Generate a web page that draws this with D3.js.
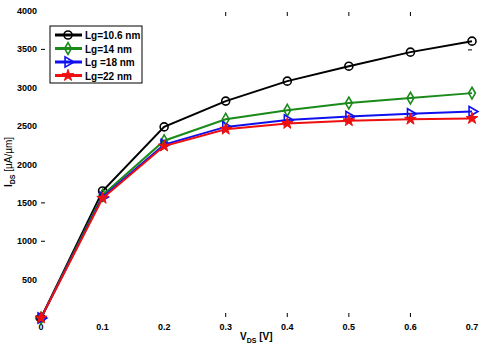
<!DOCTYPE html>
<html>
<head>
	<meta charset="utf-8">
	<style>
		body { margin: 0; background: #fff; }
		text { font-family: Arial, "Liberation Sans", sans-serif; font-weight: bold; }
	</style>
</head>
<body>
	<script src="https://cdn.jsdelivr.net/npm/d3@7"></script>

	<script>
		const vds = [0, 0.1, 0.2, 0.3, 0.4, 0.5, 0.6, 0.7];
		const lg106 = [0, 1655, 2490, 2826, 3086, 3281, 3464, 3607];
		const lg14 = [0, 1600, 2310, 2590, 2708, 2800, 2865, 2930];
		const lg18 = [0, 1575, 2260, 2490, 2580, 2625, 2660, 2690];
		const lg22 = [0, 1560, 2240, 2460, 2535, 2570, 2590, 2600];
		const legendNames = ['Lg=10.6 nm', 'Lg=14 nm', 'Lg =18 nm', 'Lg=22 nm'];
		const xTicks = [0, 0.1, 0.2, 0.3, 0.4, 0.5, 0.6, 0.7];
		const yTicks = [0, 500, 1000, 1500, 2000, 2500, 3000, 3500, 4000];

		const w = 488;
		const h = 348;

		const svg = d3.select('body')
			.append('svg')
			.attr('width', w)
			.attr('height', h);

		const x = d3.scaleLinear().domain([0, 0.7]).range([41, 472]);
		const y = d3.scaleLinear().domain([0, 4000]).range([318, 11]);

		const series = [
			{ name: legendNames[0], values: lg106, color: '#000000', marker: 'circle' },
			{ name: legendNames[1], values: lg14, color: '#1a8a1a', marker: 'diamond' },
			{ name: legendNames[2], values: lg18, color: '#1010ee', marker: 'triangle' },
			{ name: legendNames[3], values: lg22, color: '#ee1010', marker: 'star' }
		];

		// tick labels
		svg.append('g').selectAll('text')
			.data(xTicks)
			.join('text')
			.attr('x', d => x(d))
			.attr('y', 330)
			.attr('text-anchor', 'middle')
			.attr('font-size', 9)
			.text(d => d3.format('')(d));

		svg.append('g').selectAll('text')
			.data(yTicks)
			.join('text')
			.attr('x', d => d === 0 ? 40 : 37)
			.attr('y', d => y(d) + 3)
			.attr('text-anchor', 'end')
			.attr('font-size', 9)
			.text(d => d);

		// the few tick marks that show in the original
		const inner = [0.3, 0.4, 0.5, 0.6];
		svg.append('g').selectAll('line')
			.data(inner)
			.join('line')
			.attr('x1', d => x(d)).attr('x2', d => x(d))
			.attr('y1', 313).attr('y2', 317)
			.attr('stroke', '#000');
		svg.append('g').selectAll('line')
			.data(inner)
			.join('line')
			.attr('x1', d => x(d)).attr('x2', d => x(d))
			.attr('y1', 12).attr('y2', 16)
			.attr('stroke', '#000');
		svg.append('g').selectAll('line')
			.data([1000, 1500, 3500])
			.join('line')
			.attr('x1', 41).attr('x2', 45)
			.attr('y1', d => y(d)).attr('y2', d => y(d))
			.attr('stroke', '#000');
		svg.append('g').selectAll('line')
			.data([3500])
			.join('line')
			.attr('x1', 468).attr('x2', 472)
			.attr('y1', d => y(d) + 0.5).attr('y2', d => y(d) + 0.5)
			.attr('stroke', '#000');

		// axis titles
		const xl = svg.append('text')
			.attr('x', 240).attr('y', 340)
			.attr('font-size', 10);
		xl.append('tspan').text('V');
		xl.append('tspan').attr('font-size', 7).attr('dy', 3).text('DS');
		xl.append('tspan').attr('dy', -3).text(' [V]');

		const yl = svg.append('text')
			.attr('transform', 'translate(12, 187) rotate(-90)')
			.attr('font-size', 10);
		yl.append('tspan').text('I');
		yl.append('tspan').attr('font-size', 7).attr('dy', 3).text('DS');
		yl.append('tspan').attr('dy', -3).attr('font-weight', 'normal').text(' [µA/µm]');

		const line = d3.line()
			.x((d, i) => x(vds[i]))
			.y(d => y(d));

		const symbols = {
			circle: d3.symbol(d3.symbolCircle, 50),
			diamond: d3.symbol(d3.symbolDiamond, 40),
			triangle: d3.symbol(d3.symbolTriangle, 45),
			star: d3.symbol(d3.symbolStar, 42)
		};

		function drawMarker(g, s) {
			const p = g.append('path').attr('d', symbols[s.marker]());
			if (s.marker === 'star') {
				p.attr('fill', s.color).attr('stroke', s.color).attr('stroke-width', 1);
			} else {
				p.attr('fill', 'none').attr('stroke', s.color).attr('stroke-width', 1.6);
			}
			if (s.marker === 'triangle') p.attr('transform', 'rotate(90)');
			return p;
		}

		series.forEach(s => {
			svg.append('path')
				.attr('d', line(s.values))
				.attr('fill', 'none')
				.attr('stroke', s.color)
				.attr('stroke-width', 2);
			s.values.forEach((v, i) => {
				const g = svg.append('g')
					.attr('transform', `translate(${x(vds[i])}, ${y(v)})`);
				drawMarker(g, s);
			});
		});

		// legend
		const lgd = svg.append('g').attr('transform', 'translate(50, 26)');
		lgd.append('rect')
			.attr('width', 92).attr('height', 57)
			.attr('fill', '#fff').attr('stroke', '#000').attr('stroke-width', 1);
		series.forEach((s, i) => {
			const row = lgd.append('g').attr('transform', `translate(0, ${9 + i * 13.5})`);
			row.append('line')
				.attr('x1', 5).attr('x2', 32)
				.attr('stroke', s.color).attr('stroke-width', 3);
			const m = row.append('g').attr('transform', 'translate(18, 0)');
			drawMarker(m, s);
			row.append('text')
				.attr('x', 35).attr('y', 4)
				.attr('font-size', 10)
				.attr('font-weight', 'normal')
				.text(s.name);
		});
	</script>
</body>
</html>
